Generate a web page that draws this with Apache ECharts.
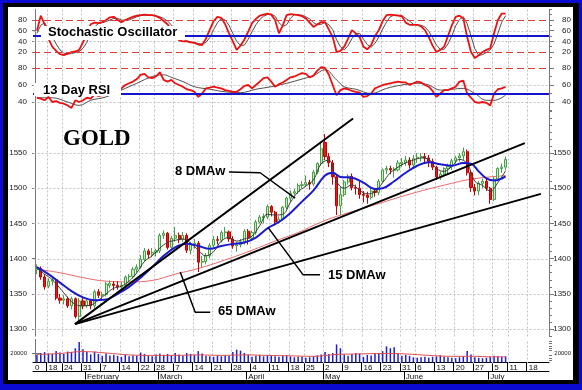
<!DOCTYPE html>
<html><head><meta charset="utf-8">
<script src="https://cdn.jsdelivr.net/npm/echarts@6/dist/echarts.min.js"></script>
<style>html,body{margin:0;padding:0;background:#fff}#c{width:582px;height:390px}</style>
</head><body><div id="c"></div>
<script>
// ---- data (trading-day index 0 = 2011-01-12) ----
const weekTicks  = [3,7,12,17,22,27,31,36,41,46,51,56,61,66,70,75,80,85,90,95,99,104,109,114,119,123,128];
const weekLabels = ['18','24','31','7','14','22','28','7','14','21','28','4','11','18','25','2','9','16','23','31','6','13','20','27','5','11','18'];
const monthTicks  = [13,32,55,75,96,118];
const monthLabels = ['February','March','April','May','June','July'];
const priceTicks = [1300,1350,1400,1450,1500,1550];
const stochTicks = [20,40,60,80];
const rsiTicks = [40,60,80];
const volTicks = [20000];

// [open, close, low, high]
const ohlc = [
[1384,1386,1378,1392],[1386,1374,1370,1389],[1374,1360,1356,1378],[1361,1368,1358,1372],[1368,1370,1362,1375],
[1370,1344,1341,1372],[1344,1341,1336,1350],[1341,1343,1335,1348],[1343,1333,1330,1346],[1333,1343,1328,1346],
[1343,1318,1315,1345],[1318,1340,1309,1344],[1340,1333,1328,1344],
[1333,1340,1330,1343],[1340,1333,1328,1343],[1333,1353,1330,1356],[1353,1348,1344,1357],[1348,1349,1340,1353],
[1349,1364,1346,1367],[1362,1365,1358,1369],[1364,1362,1355,1368],[1362,1360,1356,1368],[1360,1362,1355,1366],
[1362,1374,1360,1376],[1374,1375,1368,1378],[1375,1385,1372,1388],[1385,1388,1380,1392],[1388,1399,1386,1405],
[1399,1411,1396,1415],[1411,1406,1400,1414],[1406,1409,1402,1415],[1409,1411,1403,1414],
[1411,1433,1408,1436],[1433,1436,1428,1440],[1436,1416,1413,1438],[1416,1429,1414,1432],[1429,1433,1424,1445],
[1433,1427,1422,1437],[1427,1433,1424,1438],[1433,1412,1408,1436],[1412,1420,1406,1424],[1420,1422,1414,1428],
[1422,1395,1381,1425],[1395,1396,1388,1404],[1396,1404,1392,1408],[1404,1419,1400,1422],[1419,1427,1416,1432],
[1427,1426,1420,1432],[1426,1437,1423,1440],[1437,1438,1430,1445],[1438,1428,1424,1440],[1428,1418,1414,1432],
[1418,1420,1410,1424],[1420,1424,1416,1428],[1424,1439,1420,1442],
[1439,1429,1420,1442],[1429,1437,1426,1440],[1437,1452,1434,1455],[1452,1459,1450,1462],[1458,1460,1450,1464],
[1459,1474,1456,1477],[1474,1466,1460,1476],[1466,1452,1447,1468],[1452,1456,1450,1460],[1456,1473,1454,1475],
[1473,1486,1470,1488],[1486,1493,1480,1497],[1493,1495,1490,1499],[1495,1504,1492,1507],[1504,1505,1500,1510],
[1505,1508,1502,1518],[1508,1506,1498,1512],[1506,1523,1503,1526],[1523,1535,1520,1537],[1535,1556,1532,1565],
[1565,1545,1540,1577],[1545,1536,1530,1550],[1536,1516,1505,1540],[1516,1475,1462,1520],[1475,1491,1462,1503],
[1491,1509,1488,1512],[1509,1517,1505,1520],[1517,1501,1497,1521],[1501,1500,1491,1505],[1500,1491,1485,1510],
[1491,1490,1480,1496],[1490,1487,1478,1495],[1487,1496,1484,1500],[1496,1494,1488,1500],[1494,1510,1490,1513],
[1510,1526,1508,1528],[1526,1528,1520,1532],[1528,1526,1520,1532],[1525,1527,1515,1530],[1526,1536,1524,1540],
[1535,1537,1530,1543],
[1536,1540,1532,1546],[1540,1533,1528,1544],[1533,1542,1530,1547],[1542,1544,1536,1550],[1544,1545,1538,1550],
[1545,1543,1535,1550],[1543,1538,1530,1547],[1538,1530,1526,1542],[1530,1516,1512,1532],[1516,1520,1512,1524],
[1520,1528,1516,1530],[1528,1531,1520,1535],[1531,1539,1526,1542],[1539,1543,1535,1546],[1543,1546,1538,1550],
[1546,1552,1540,1558],[1552,1522,1518,1555],[1522,1501,1495,1526],[1501,1496,1490,1506],[1496,1507,1490,1510],
[1507,1510,1500,1514],[1510,1500,1496,1515],
[1500,1484,1478,1502],[1484,1513,1482,1516],[1513,1528,1510,1530],[1528,1530,1522,1535],[1530,1541,1526,1545]
];

// moving averages: [dayIndex, value]
const ma8 = [[0,1386],[2,1378],[4,1370],[6,1358],[8,1345],[10,1335],[12,1333],[14,1334],[16,1341],[18,1350],[20,1358],
[22,1361],[24,1368],[26,1380],[28,1396],[30,1404],[32,1415],[34,1423],[36,1426],[38,1428],[40,1422],[42,1412],[44,1404],
[46,1410],[48,1425],[50,1430],[52,1425],[54,1428],[56,1432],[58,1447],[60,1463],[62,1462],[64,1463],[66,1480],[68,1495],
[70,1503],[72,1512],[74,1535],[76,1540],[78,1510],[80,1500],[82,1505],[84,1497],[86,1492],[88,1495],[90,1508],[92,1522],
[94,1530],[96,1536],[98,1540],[100,1543],[102,1541],[104,1528],[106,1524],[108,1531],[110,1541],[112,1535],[114,1510],
[116,1504],[118,1496],[120,1508],[122,1525]];
const ma15 = [[0,1388],[3,1378],[6,1366],[9,1354],[12,1345],[15,1341],[18,1342],[21,1350],[24,1360],[27,1373],[30,1388],
[33,1404],[36,1416],[39,1421],[42,1418],[45,1414],[48,1418],[51,1421],[54,1423],[57,1430],[60,1443],[63,1452],[66,1465],
[69,1481],[72,1497],[75,1518],[77,1522],[79,1516],[82,1515],[85,1508],[88,1499],[90,1500],[93,1510],[96,1522],[99,1532],
[102,1537],[105,1534],[108,1532],[111,1536],[113,1535],[115,1524],[117,1514],[119,1511],[122,1517]];
const ma65 = [[0,1385],[6,1380],[12,1373],[18,1368],[24,1367],[30,1369],[36,1378],[42,1386],[50,1400],[56,1412],[62,1425],
[68,1437],[74,1452],[78,1460],[84,1470],[90,1480],[96,1490],[102,1499],[108,1507],[112,1512],[116,1515],[122,1518]];

const stochK = [60,88,72,45,30,22,16,14,17,20,21,24,38,55,72,75,74,76,80,85,86,80,76,80,83,86,88,89,90,89,89,87,84,78,72,
62,50,42,40,40,38,37,34,33,45,62,78,86,84,72,55,40,24,32,43,58,74,82,88,90,92,90,80,55,70,89,91,90,89,87,83,75,67,72,76,
76,62,48,20,22,30,45,61,55,48,30,25,33,50,61,78,89,90,89,88,87,75,71,71,71,68,61,48,32,20,24,30,50,70,86,88,83,48,20,9,
14,20,24,27,55,80,92,92];
const stochD = [55,70,75,62,48,35,24,18,16,17,19,21,27,38,55,67,73,75,77,80,83,83,80,79,80,83,86,88,89,89,89,88,86,83,78,
71,61,51,44,41,39,38,36,35,38,47,62,75,83,80,70,55,40,32,33,44,58,71,81,87,90,91,87,75,68,71,83,90,90,89,86,82,75,71,72,
75,71,62,43,30,24,32,45,54,55,44,34,29,36,48,63,76,86,89,89,88,83,78,72,71,70,67,59,47,33,25,25,35,50,69,81,86,73,50,26,
14,15,19,24,35,55,76,88];
const rsi = [45,44,42,46,40,41,39,38,36,33,42,40,42,45,44,49,47,48,52,52,51,52,56,60,62,64,67,72,73,69,68,70,75,66,64,66,
62,60,58,55,54,52,46,50,56,57,58,57,56,54,53,52,52,55,59,60,56,60,64,68,69,64,58,61,63,66,69,70,72,74,73,69,71,77,81,80,
72,60,48,54,56,55,53,52,51,46,47,50,56,58,60,61,62,63,64,63,63,60,62,64,63,60,58,53,46,50,54,54,56,58,64,65,50,45,40,39,
40,39,36,50,55,56,58];
const rsiMA = [[0,45],[4,45],[8,40],[11,36],[14,42],[18,46],[22,54],[26,62],[30,70],[33,72],[35,69],[38,64],[41,58],[45,55],
[49,52],[53,51],[57,55],[61,58],[65,62],[69,67],[72,71],[75,78],[78,66],[80,58],[83,55],[87,50],[91,56],[95,60],[99,62],
[102,60],[105,54],[108,55],[111,56],[114,50],[117,42],[119,42],[122,48]];

const volume = [17000,20000,22000,19000,18000,24000,21000,18000,23000,22000,30000,43000,28000,
22000,17000,23000,18000,14000,19000,15000,16000,14000,12000,16000,13000,15000,14000,21000,18000,14000,13000,17000,
19000,16000,18000,15000,20000,17000,14000,20000,18000,16000,24000,19000,14000,13000,12000,14000,13000,15000,14000,22000,27000,25000,20000,
17000,12000,14000,16000,13000,15000,14000,13000,12000,14000,15000,13000,11000,12000,12000,10000,11000,13000,15000,17000,
22000,18000,20000,38000,30000,17000,14000,18000,20000,19000,12000,16000,15000,18000,20000,24000,34000,30000,32000,20000,14000,
16000,14000,11000,10000,11000,12000,10000,12000,13000,15000,12000,11000,10000,9000,11000,13000,24000,17000,11000,10000,9000,10000,
12000,14000,13000,12000,13000];
const volMA = [[0,17000],[6,19000],[12,23000],[18,20000],[24,16000],[30,15000],[36,15000],[42,16000],[48,15000],[54,16000],
[60,15000],[66,14000],[72,13000],[78,17000],[84,18000],[90,19000],[96,18000],[102,15000],[108,13000],[114,13000],[118,12000],[122,12000]];

// trend lines and label leaders: [dayIndex, price]
const trendLines = [
  [[10.4,1307],[82.8,1599]],
  [[10.4,1307],[127.5,1564]],
  [[10.4,1307],[131.7,1492]]
];
const leaders = [
  [[50.5,1523],[58.6,1522],[67.7,1486]],
  [[60.7,1444],[69.8,1377],[74.2,1377]],
  [[37.8,1381],[41.7,1324],[45.6,1324]]
];

// ---- build ----
const X_MIN = -0.52, X_MAX = 133.8;
const C = v => v + 0.5; // bar centre
const weekMap = {}; weekTicks.forEach((t,i)=>weekMap[t]=weekLabels[i]);
const monthMap = {}; monthTicks.forEach((t,i)=>monthMap[t]=monthLabels[i]);

const FONT = '"Liberation Sans", Arial, sans-serif';
const grids = [
  {left:33, right:33, top:9.3,   height:53.4},
  {left:33, right:33, top:61.2,  height:49.3},
  {left:33, right:33, top:110.8, height:225.3},
  {left:33, right:33, top:339.7, height:22.8}
];
const yRanges = [[0,100],[30,88],[1290,1610],[0,48000]];

const xAxes = [];
for (let g=0; g<3; g++) {
  xAxes.push({type:'value', gridIndex:g, min:X_MIN, max:X_MAX,
    axisLine:{show:false}, axisTick:{show:false}, axisLabel:{show:false}, splitLine:{show:false}});
}
xAxes.push({type:'value', gridIndex:3, min:X_MIN, max:X_MAX, position:'bottom',
  axisLine:{show:true, onZero:false, lineStyle:{color:'#000', width:1}},
  axisTick:{show:true, customValues:weekTicks, length:9, lineStyle:{color:'#000'}},
  axisLabel:{show:true, customValues:[X_MIN].concat(weekTicks), formatter:v=> v===X_MIN ? '0' : (weekMap[v]||''),
    align:'left', verticalAlign:'top', margin:1, padding:[0,0,0,2], fontSize:8, color:'#111', fontFamily:FONT, showMinLabel:true},
  splitLine:{show:false}});
xAxes.push({type:'value', gridIndex:3, min:X_MIN, max:X_MAX, position:'bottom', offset:9,
  axisLine:{show:true, onZero:false, lineStyle:{color:'#000', width:1}},
  axisTick:{show:true, customValues:monthTicks, length:8, lineStyle:{color:'#000'}},
  axisLabel:{show:true, customValues:monthTicks, formatter:v=>monthMap[v]||'',
    align:'left', verticalAlign:'top', margin:1, padding:[0,0,0,2], fontSize:8, color:'#111', fontFamily:FONT},
  splitLine:{show:false}});

function yAxesFor(g, ticks, minor, lblSize) {
  const [min, max] = yRanges[g];
  const lbl = {fontSize:lblSize||8, color:'#222', fontFamily:FONT, customValues:ticks, formatter:v=>String(v)};
  return [
    {type:'value', gridIndex:g, min, max, position:'left',
      axisLine:{show:true, lineStyle:{color:'#777'}}, axisTick:{show:true, customValues:ticks, length:3, lineStyle:{color:'#777'}},
      axisLabel:Object.assign({margin:6}, lbl), splitLine:{show:false}},
    {type:'value', gridIndex:g, min, max, position:'right',
      axisLine:{show:true, lineStyle:{color:'#777'}}, axisTick:{show:true, customValues:ticks, length:5, lineStyle:{color:'#777'}},
      axisLabel:Object.assign({margin:22, align:'right'}, lbl), splitLine:{show:false}},
    {type:'value', gridIndex:g, min, max, position:'right',
      axisLine:{show:false}, axisTick:{show:true, customValues:minor, length:3, lineStyle:{color:'#777'}},
      axisLabel:{show:false}, splitLine:{show:false}}
  ];
}
const range = (a,b,s)=>{const r=[];for(let v=a;v<=b;v+=s)r.push(v);return r;};
const yAxes = [].concat(
  yAxesFor(0, stochTicks, range(10,100,10)),
  yAxesFor(1, rsiTicks, range(30,85,10)),
  yAxesFor(2, priceTicks, range(1290,1610,10)),
  yAxesFor(3, volTicks, [5000,10000,15000,25000,30000,35000,40000,45000], 6)
);
const redDash = {color:'#e03a3a', type:[7,4], width:1};
const blueRef = {color:'#1414c8', width:2, type:'solid'};

const series = [];
// dotted grid (weekly verticals + horizontal levels), drawn through the axes
function gridSeries(g, hVals) {
  const [yMin, yMax] = yRanges[g];
  const items = weekTicks.map(t=>['v',t]).concat(hVals.map(v=>['h',v]));
  series.push({type:'custom', xAxisIndex:g, yAxisIndex:3*g, silent:true, z:1, clip:false,
    data: items.map((it,i)=>[it[0]==='v'?it[1]:0, it[0]==='h'?it[1]:yMin]),
    renderItem:(params, api)=>{
      const it = items[params.dataIndex];
      let p1, p2;
      if (it[0]==='v') { p1 = api.coord([it[1], yMin]); p2 = api.coord([it[1], yMax]); }
      else { p1 = api.coord([X_MIN, it[1]]); p2 = api.coord([X_MAX, it[1]]); }
      const r = v => Math.round(v) + 0.5;
      return {type:'line', shape:{x1:r(p1[0]), y1:r(p1[1]), x2:r(p2[0]), y2:r(p2[1])},
        style:{stroke:'#c2c2c2', lineDash:[2,2], lineWidth:1}};
    }});
}
gridSeries(0, [40,60]);
gridSeries(1, [40,60]);
gridSeries(2, priceTicks);
gridSeries(3, []);

// stochastic
series.push({type:'line', xAxisIndex:0, yAxisIndex:0, data:stochD.map((v,i)=>[C(i),v]), showSymbol:false,
  lineStyle:{color:'#505050', width:1}, z:3});
series.push({type:'line', xAxisIndex:0, yAxisIndex:0, data:stochK.map((v,i)=>[C(i),v]), showSymbol:false,
  lineStyle:{color:'#ee1010', width:1.8}, z:4,
  markLine:{silent:true, symbol:'none', label:{show:false}, animation:false,
    data:[{yAxis:80, lineStyle:redDash},{yAxis:20, lineStyle:redDash},{yAxis:50, lineStyle:blueRef}]}});
// RSI
series.push({type:'line', xAxisIndex:1, yAxisIndex:3, data:rsiMA.map(p=>[C(p[0]),p[1]]), showSymbol:false, smooth:0.4,
  lineStyle:{color:'#505050', width:1}, z:3});
series.push({type:'line', xAxisIndex:1, yAxisIndex:3, data:rsi.map((v,i)=>[C(i),v]), showSymbol:false,
  lineStyle:{color:'#ee1010', width:1.8}, z:4,
  markLine:{silent:true, symbol:'none', label:{show:false}, animation:false,
    data:[{yAxis:80, lineStyle:redDash},{yAxis:50, lineStyle:blueRef}]}});
// price
series.push({type:'line', xAxisIndex:2, yAxisIndex:6, data:ma65.map(p=>[C(p[0]),p[1]]), showSymbol:false, smooth:0.4,
  lineStyle:{color:'#e86a6a', width:1}, z:2});
series.push({type:'candlestick', xAxisIndex:2, yAxisIndex:6, barWidth:2.6,
  data:ohlc.map((d,i)=>[C(i),d[0],d[1],d[2],d[3]]), encode:{x:0, y:[1,2,3,4]},
  itemStyle:{color:'#cdeec4', color0:'#e41a1a', borderColor:'#45a045', borderColor0:'#c40000', borderWidth:1}, z:3});
series.push({type:'line', xAxisIndex:2, yAxisIndex:6, data:ma8.map(p=>[C(p[0]),p[1]]), showSymbol:false, smooth:0.4,
  lineStyle:{color:'#3a3a3a', width:1}, z:4});
series.push({type:'line', xAxisIndex:2, yAxisIndex:6, data:ma15.map(p=>[C(p[0]),p[1]]), showSymbol:false, smooth:0.4,
  lineStyle:{color:'#1a1ad2', width:2}, z:5});
trendLines.forEach(t=>series.push({type:'line', xAxisIndex:2, yAxisIndex:6, data:t, showSymbol:false,
  lineStyle:{color:'#000', width:2}, z:6}));
leaders.forEach(t=>series.push({type:'line', xAxisIndex:2, yAxisIndex:6, data:t, showSymbol:false,
  lineStyle:{color:'#000', width:1.5}, z:6}));
// volume
series.push({type:'bar', xAxisIndex:3, yAxisIndex:9, data:volume.map((v,i)=>[C(i),v]), barWidth:1.5,
  itemStyle:{color:'#1e1ed6'}, z:2});
series.push({type:'line', xAxisIndex:3, yAxisIndex:9, data:volMA.map(p=>[C(p[0]),p[1]]), showSymbol:false, smooth:0.4,
  lineStyle:{color:'#e05050', width:1}, z:3});

const txt = (text, x, y, font) => ({type:'text', z:101, silent:true,
  style:{text, x, y, font, fill:'#000', verticalAlign:'middle', align:'left'}});
const box = (x, y, w, h) => ({type:'rect', z:100, silent:true, shape:{x,y,width:w,height:h}, style:{fill:'#fff'}});
const BOLD = 'bold 13px "Liberation Sans", Arial, sans-serif';

const option = {
  animation:false,
  backgroundColor:'#0a0ad0',
  grid:grids,
  xAxis:xAxes,
  yAxis:yAxes,
  series,
  graphic:[
    {type:'rect', z:-100, silent:true, shape:{x:3,y:3,width:576,height:381}, style:{fill:'#000'}},
    {type:'rect', z:-99, silent:true, shape:{x:8,y:7,width:565,height:373}, style:{fill:'#fff'}},
    box(41,26,144,14), txt('Stochastic Oscillator', 48, 32.5, BOLD),
    box(34,83,87,13), txt('13 Day RSI', 43, 90, BOLD),
    txt('GOLD', 63, 139, 'bold 23px "Liberation Serif", "Times New Roman", serif'),
    txt('8 DMAw', 175, 171.5, BOLD),
    txt('15 DMAw', 328, 275.5, BOLD),
    txt('65 DMAw', 218, 311.5, BOLD)
  ]
};
echarts.init(document.getElementById('c'), null, {renderer:'canvas'}).setOption(option);
</script></body></html>
